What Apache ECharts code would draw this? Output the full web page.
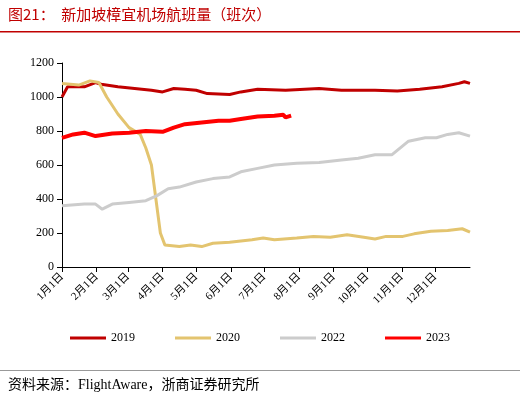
<!DOCTYPE html><html><head><meta charset="utf-8"><script src="https://cdn.jsdelivr.net/npm/echarts@6/dist/echarts.min.js"></script></head><body style="margin:0"><div id="c" style="width:520px;height:404px"></div><script>
const monthStarts=[0,31,59,90,120,151,181,212,243,273,304,334];
const monthLabels=['1月1日','2月1日','3月1日','4月1日','5月1日','6月1日','7月1日','8月1日','9月1日','10月1日','11月1日','12月1日'];
const s2019=[[0,1000],[5,1060],[20,1060],[30,1085],[35,1075],[50,1060],[65,1050],[80,1040],[90,1030],[100,1050],[110,1045],[120,1040],[130,1020],[150,1015],[160,1030],[175,1045],[200,1040],[230,1050],[250,1040],[280,1040],[300,1035],[320,1045],[340,1060],[355,1080],[360,1090],[365,1080]];
const s2020=[[0,1080],[15,1070],[25,1095],[33,1085],[40,1000],[50,900],[60,820],[70,780],[75,700],[80,600],[84,400],[88,200],[92,130],[105,120],[115,130],[125,120],[135,140],[150,145],[170,160],[180,170],[190,160],[210,170],[225,180],[240,175],[255,190],[270,175],[280,165],[290,180],[305,180],[315,195],[330,210],[345,215],[358,225],[365,205]];
const s2022=[[0,360],[20,370],[30,370],[36,340],[45,370],[60,380],[75,390],[85,420],[95,460],[105,470],[120,500],[135,520],[150,530],[160,560],[175,580],[190,600],[210,610],[230,615],[250,630],[265,640],[280,660],[295,660],[310,740],[325,760],[335,760],[345,780],[355,790],[365,770]];
const s2023=[[0,760],[10,780],[20,790],[30,770],[45,785],[60,790],[75,800],[90,795],[100,820],[110,840],[125,850],[140,860],[150,860],[160,870],[175,885],[190,890],[198,895],[200,880],[205,890]];
const ch=echarts.init(document.getElementById('c'));
const ls=(n,d,c,w)=>({name:n,type:'line',data:d,showSymbol:false,lineStyle:{color:c,width:w},itemStyle:{color:c}});
ch.setOption({
 textStyle:{fontFamily:'"Liberation Serif","Noto Sans CJK SC"'},
 graphic:[
  {type:'text',left:8,top:7,style:{text:'图21：  新加坡樟宜机场航班量（班次）',fill:'#c00000',font:'15px "Noto Sans CJK SC"'}},
  {type:'rect',shape:{x:0,y:31,width:520,height:1.5},style:{fill:'#c00000'}},
  {type:'rect',shape:{x:0,y:370,width:520,height:1},style:{fill:'#999'}},
  {type:'text',left:8,top:378,style:{text:'资料来源：FlightAware，浙商证券研究所',fill:'#000',font:'14px "Liberation Serif","Noto Sans CJK SC"'}}
 ],
 grid:{left:62,right:50,top:63,bottom:137},
 legend:{bottom:55,itemWidth:36,itemHeight:3,icon:'rect',itemGap:40,textStyle:{fontSize:12,color:'#000'}},
 xAxis:{type:'value',min:0,max:365,splitLine:{show:false},
  axisLine:{lineStyle:{color:'#000'}},
  axisTick:{customValues:monthStarts,lineStyle:{color:'#000'}},
  axisLabel:{customValues:monthStarts,formatter:v=>monthLabels[monthStarts.indexOf(v)],rotate:45,color:'#000',fontSize:11}},
 yAxis:{type:'value',min:0,max:1200,interval:200,splitLine:{show:false},axisLine:{show:true,lineStyle:{color:'#000'}},axisTick:{show:true},axisLabel:{color:'#000',fontSize:12,formatter:v=>String(v)}},
 series:[ls('2019',s2019,'#c00000',3),ls('2020',s2020,'#e3c46f',3),ls('2022',s2022,'#cccccc',3),ls('2023',s2023,'#ff0000',4)]
});
</script></body></html>
